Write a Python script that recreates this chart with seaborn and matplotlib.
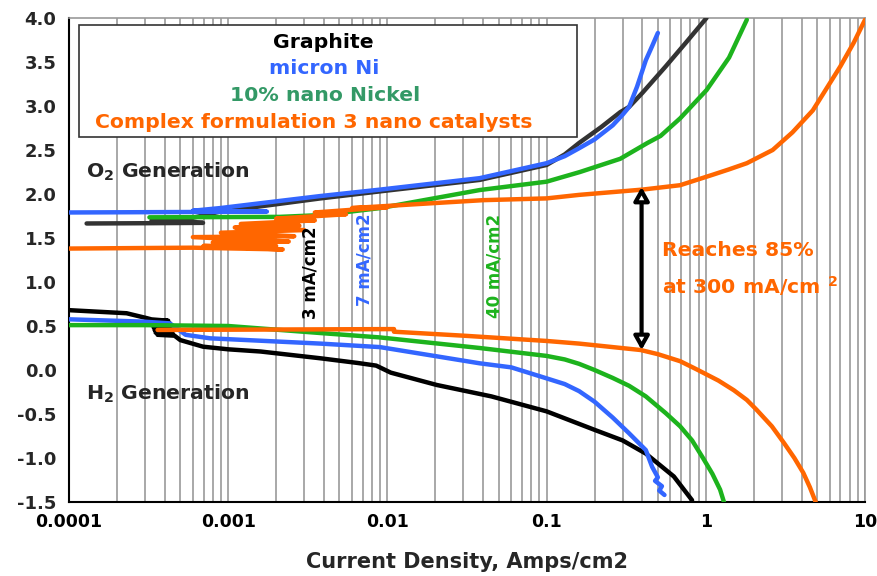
import numpy as np
import pandas as pd
import matplotlib
matplotlib.use("Agg")
import matplotlib.pyplot as plt
import matplotlib.ticker as mticker
from matplotlib.patches import Rectangle
import seaborn as sns

# ---------------- data ----------------
series_names = ["Graphite", "micron Ni", "10% nano Nickel",
                "Complex formulation 3 nano catalysts"]

# O2 generation (upper) branches
graphite_up_x = [1.29e-4, 3e-4, 6.95e-4, 3.3e-4, 6e-4, 8.9e-4, 0.0016, 0.0038, 0.009,
                 0.038, 0.1, 0.13, 0.16, 0.22, 0.29, 0.33, 0.4, 0.56, 0.75, 1.01]
graphite_up_y = [1.665, 1.668, 1.672, 1.70, 1.73, 1.80, 1.86, 1.95, 2.03,
                 2.16, 2.33, 2.45, 2.58, 2.76, 2.93, 2.99, 3.15, 3.45, 3.72, 4.0]

micron_up_x = [1e-4, 5e-4, 0.00175, 6e-4, 8.9e-4, 0.0038, 0.009, 0.038, 0.1,
               0.13, 0.16, 0.2, 0.26, 0.3, 0.33, 0.37, 0.42, 0.46, 0.5]
micron_up_y = [1.79, 1.795, 1.80, 1.81, 1.84, 1.977, 2.05, 2.18, 2.35,
               2.43, 2.52, 2.62, 2.78, 2.90, 2.99, 3.22, 3.52, 3.68, 3.83]

nano_up_x = [3.2e-4, 0.0021, 0.0038, 0.009, 0.038, 0.1, 0.162, 0.29, 0.43, 0.52,
             0.69, 1.01, 1.4, 1.81]
nano_up_y = [1.735, 1.74, 1.76, 1.84, 2.045, 2.14, 2.25, 2.40, 2.58, 2.66,
             2.86, 3.18, 3.55, 3.98]

complex_up_x = [1e-4, 6e-4, 2.2e-3, 7e-4, 2.0e-3, 8e-4, 2.4e-3, 6e-4, 2.6e-3, 9e-4,
                3.0e-3, 1.1e-3, 2.8e-3, 1.2e-3, 3.5e-3, 2e-3, 5.5e-3, 3.5e-3, 0.01,
                0.006, 0.0186, 0.04, 0.1, 0.16, 0.4, 0.69, 1.11, 1.4, 1.81, 2.63,
                3.5, 4.7, 7.0, 8.5, 10.0]
complex_up_y = [1.38, 1.39, 1.37, 1.41, 1.41, 1.45, 1.46, 1.51, 1.52, 1.56,
                1.59, 1.62, 1.64, 1.66, 1.70, 1.72, 1.77, 1.79, 1.85,
                1.84, 1.894, 1.93, 1.95, 1.99, 2.05, 2.10, 2.22, 2.28, 2.35, 2.50,
                2.70, 2.95, 3.45, 3.72, 3.98]

# H2 generation (lower) branches
graphite_dn_x = [1e-4, 2.3e-4, 3.07e-4, 3.3e-4, 4.2e-4, 3.3e-4, 4.3e-4, 3.35e-4, 4.3e-4,
                 3.4e-4, 4.4e-4, 3.45e-4, 4.4e-4, 3.5e-4, 4.5e-4, 3.6e-4, 4.6e-4,
                 5e-4, 6.95e-4, 0.001, 0.0016, 0.0038, 0.0065, 0.0085, 0.0105, 0.0204,
                 0.045, 0.1, 0.2, 0.3, 0.42, 0.63, 0.82]
graphite_dn_y = [0.68, 0.645, 0.59, 0.575, 0.56, 0.545, 0.53, 0.515, 0.50,
                 0.485, 0.47, 0.455, 0.44, 0.425, 0.41, 0.40, 0.39,
                 0.34, 0.265, 0.235, 0.21, 0.133, 0.08, 0.05, -0.03, -0.17,
                 -0.30, -0.47, -0.68, -0.80, -0.95, -1.21, -1.48]

micron_dn_x = [1e-4, 2.9e-4, 4.3e-4, 5.4e-4, 7.7e-4, 0.0038, 0.009, 0.038, 0.06, 0.1,
               0.13, 0.16, 0.2, 0.26, 0.33, 0.42, 0.46, 0.5, 0.48, 0.53, 0.51, 0.55]
micron_dn_y = [0.576, 0.55, 0.53, 0.40, 0.36, 0.30, 0.26, 0.076, 0.03, -0.095,
               -0.16, -0.24, -0.36, -0.54, -0.72, -0.91, -1.10, -1.22, -1.26, -1.32,
               -1.37, -1.42]

nano_dn_x = [1e-4, 3e-4, 0.001, 0.0038, 0.009, 0.038, 0.1, 0.13, 0.16, 0.2, 0.26, 0.33,
             0.42, 0.56, 0.69, 0.82, 0.96, 1.1, 1.23, 1.3]
nano_dn_y = [0.51, 0.51, 0.50, 0.42, 0.37, 0.25, 0.16, 0.12, 0.07, 0.0, -0.09, -0.18,
             -0.30, -0.49, -0.64, -0.80, -1.00, -1.18, -1.36, -1.50]

complex_dn_x = [3.6e-4, 0.011, 0.011, 0.03, 0.1, 0.16, 0.39, 0.5, 0.69, 0.87, 1.2,
                1.5, 1.81, 2.08, 2.6, 3.1, 3.6, 4.1, 4.5, 4.9]
complex_dn_y = [0.455, 0.465, 0.435, 0.39, 0.33, 0.30, 0.227, 0.18, 0.10, 0.01, -0.12,
                -0.23, -0.34, -0.45, -0.64, -0.83, -1.00, -1.17, -1.33, -1.50]

line_colors = ["#000000", "#3366FF", "#1DB31D", "#FF6600"]
up_colors = ["#333333", "#3366FF", "#1DB31D", "#FF6600"]
legend_colors = ["#000000", "#3366FF", "#339966", "#FF6600"]
legend_xc = [0.32, 0.32, 0.322, 0.308]

x_ticks = [0.0001, 0.001, 0.01, 0.1, 1, 10]
x_tick_labels = ["0.0001", "0.001", "0.01", "0.1", "1", "10"]
y_ticks = [-1.5, -1.0, -0.5, 0.0, 0.5, 1.0, 1.5, 2.0, 2.5, 3.0, 3.5, 4.0]

# ---------------- figure ----------------
sns.set_style("white")
plt.rcParams['font.family'] = ['DejaVu Sans']
plt.rcParams['mathtext.fontset'] = 'dejavusans'

fig = plt.figure(figsize=(8.77, 5.76), dpi=100)
ax = fig.add_axes([69/877, 1-502/576, (865-69)/877, (502-18)/576])

ups = [(graphite_up_x, graphite_up_y), (micron_up_x, micron_up_y),
       (nano_up_x, nano_up_y), (complex_up_x, complex_up_y)]
dns = [(graphite_dn_x, graphite_dn_y), (micron_dn_x, micron_dn_y),
       (nano_dn_x, nano_dn_y), (complex_dn_x, complex_dn_y)]

for i in range(4):
    xs, ys = dns[i]
    sns.lineplot(x=xs, y=ys, sort=False, estimator=None, color=line_colors[i],
                 lw=3.2, ax=ax, zorder=3 + i * 0.1)
for i in range(4):
    xs, ys = ups[i]
    sns.lineplot(x=xs, y=ys, sort=False, estimator=None, color=up_colors[i],
                 lw=3.2, ax=ax, zorder=3 + i * 0.1)

ax.set_xscale("log")
ax.set_xlim(1e-4, 10)
ax.set_ylim(-1.5, 4.0)

# vertical grid at every major and minor tick
ax.xaxis.set_major_locator(mticker.FixedLocator(x_ticks))
ax.xaxis.set_minor_locator(mticker.LogLocator(base=10, subs=np.arange(2, 10)))
ax.xaxis.set_minor_formatter(mticker.NullFormatter())
ax.set_xticks(x_ticks)
ax.set_xticklabels(x_tick_labels)
ax.grid(True, axis="x", which="both", color="#999999", lw=1.2, zorder=0)
ax.grid(False, axis="y")
ax.set_axisbelow(True)

ax.set_yticks(y_ticks)
ax.set_yticklabels([f"{v:.1f}" for v in y_ticks])

ax.tick_params(axis="x", which="major", direction="out", length=5, width=1.2,
               labelsize=12.5, pad=3, colors="black")
ax.tick_params(axis="x", which="minor", length=0)
ax.tick_params(axis="y", direction="out", length=5, width=1.2, labelsize=13, pad=4)
for lab in ax.get_xticklabels() + ax.get_yticklabels():
    lab.set_fontweight("bold")

for s in ["left", "bottom"]:
    ax.spines[s].set_color("black")
    ax.spines[s].set_linewidth(1.5)
for s in ["top", "right"]:
    ax.spines[s].set_color("#999999")
    ax.spines[s].set_linewidth(1.2)

ax.set_xlabel("Current Density, Amps/cm2", fontsize=15, fontweight="bold", labelpad=15)
ax.set_ylabel("")

# legend box
ax.add_patch(Rectangle((0.0126, 0.754), 0.6255, 0.2315, transform=ax.transAxes,
                       facecolor="white", edgecolor="#333333", lw=1.2, zorder=6))
leg_y = [0.950, 0.895, 0.839, 0.785]
for name, c, xc, yy in zip(series_names, legend_colors, legend_xc, leg_y):
    ax.text(xc, yy, name, transform=ax.transAxes, ha="center", va="center",
            color=c, fontsize=14.7, fontweight="bold", zorder=7)

# annotations
ax.text(1.28e-4, 2.25, r"O$_\mathbf{2}$ Generation", fontsize=14.7, fontweight="bold",
        ha="left", va="center", zorder=7)
ax.text(1.28e-4, -0.27, r"H$_\mathbf{2}$ Generation", fontsize=14.7, fontweight="bold",
        ha="left", va="center", zorder=7)
ax.text(0.00327, 1.11, "3 mA/cm2", rotation=90, color="black", fontsize=12,
        fontweight="bold", ha="center", va="center", zorder=7)
ax.text(0.0072, 1.25, "7 mA/cm2", rotation=90, color="#3366FF", fontsize=12,
        fontweight="bold", ha="center", va="center", zorder=7)
ax.text(0.047, 1.18, "40 mA/cm2", rotation=90, color="#1DB31D", fontsize=12,
        fontweight="bold", ha="center", va="center", zorder=7)

ax.annotate("", xy=(0.395, 2.08), xytext=(0.395, 0.227),
            arrowprops=dict(arrowstyle="<|-|>,head_length=0.8,head_width=0.45",
                            lw=3, fc="white", ec="black", shrinkA=0, shrinkB=0),
            zorder=8)
ax.text(0.53, 1.36, "Reaches 85%", color="#FF6600", fontsize=14.7, fontweight="bold",
        ha="left", va="center", zorder=7)
ax.text(0.53, 0.95, r"at 300 mA/cm $^\mathbf{2}$", color="#FF6600", fontsize=14.7,
        fontweight="bold", ha="left", va="center", zorder=7)

fig.savefig("out.png", dpi=100)
